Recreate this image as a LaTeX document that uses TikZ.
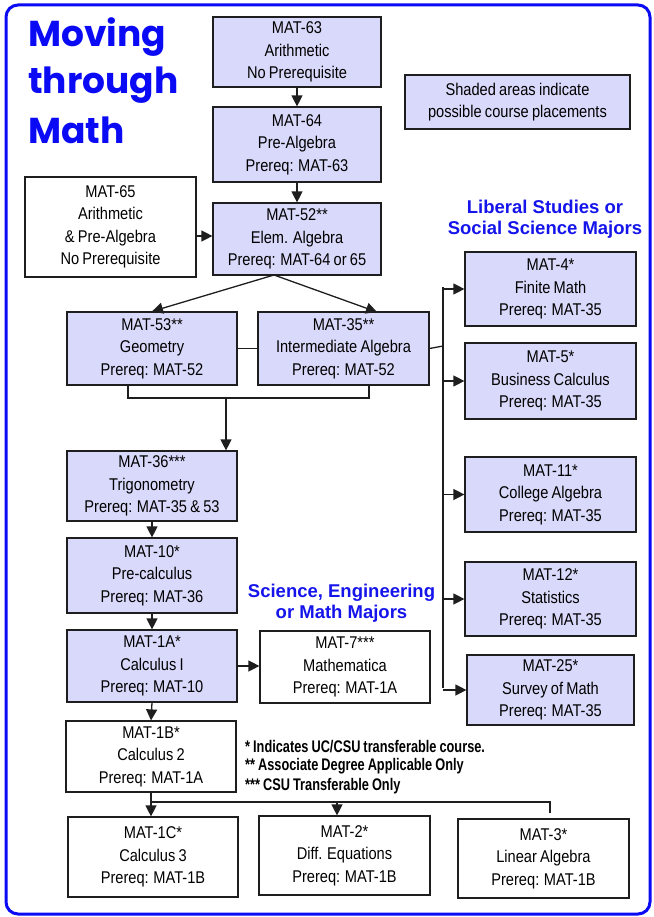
\documentclass[tikz,border=0pt]{standalone}
\usepackage{fontspec}
\setmainfont{Liberation Sans}[FakeStretch=0.86, WordSpace=0.8]
\newfontfamily\titlefont{Poppins}
\newfontfamily\condfont{Liberation Sans}[FakeStretch=0.76, WordSpace=0.85]
\newfontfamily\labelfont{Liberation Sans}
\usetikzlibrary{arrows.meta}
\definecolor{shade}{RGB}{217,217,251}
\definecolor{frameblue}{RGB}{10,10,245}
\definecolor{labelblue}{RGB}{20,20,235}
\definecolor{edgecol}{RGB}{30,30,30}
\tikzset{
  course/.style={draw=edgecol, line width=1.2pt, align=center, inner sep=0pt,
    font=\fontsize{17}{22.5}\selectfont},
  shadedbox/.style={course, fill=shade},
  plainbox/.style={course, fill=white},
  conn/.style={draw=edgecol, line width=1.3pt},
  arr/.style={conn, -{Triangle[length=11pt,width=11pt]}},
  majors/.style={text=labelblue, font=\labelfont\fontsize{18.5}{21.5}\selectfont\bfseries,
    align=center, inner sep=0pt},
  foot/.style={font=\condfont\bfseries\fontsize{16.8}{19}\selectfont, anchor=west, inner sep=0pt},
  ttl/.style={text=frameblue, font=\titlefont\bfseries\fontsize{36}{48}\selectfont,
    anchor=base west, inner sep=0pt},
}
\newcommand\crsbox[7]{\node[#6, minimum width={(#4-#2)*1pt}, minimum height={(#5-#3)*1pt}]
  (#1) at ({(#2+#4)/2},{(#3+#5)/2}) {#7};}
\begin{document}
\begin{tikzpicture}[x=1pt,y=-1pt]
\useasboundingbox (0,0) rectangle (653,917);
\draw[frameblue, line width=3pt, rounded corners=12pt] (6,5) rectangle (650,914);

% title
\node[ttl] (t1) at (28,47) {Moving};
\node[ttl] (t2) at (28,94) {through};
\node[ttl] (t3) at (28,144) {Math};

% boxes
\crsbox{m63}{213}{17}{381}{87}{shadedbox}{MAT-63\\Arithmetic\\No Prerequisite}
\crsbox{m64}{213}{107}{381}{182}{shadedbox}{MAT-64\\Pre-Algebra\\Prereq: MAT-63}
\crsbox{m65}{25}{177}{196}{277}{plainbox}{MAT-65\\Arithmetic\\\& Pre-Algebra\\No Prerequisite}
\crsbox{m52}{213}{203}{381}{275}{shadedbox}{MAT-52**\\Elem. Algebra\\Prereq: MAT-64 or 65}
\crsbox{m53}{67}{312}{237}{385}{shadedbox}{MAT-53**\\Geometry\\Prereq: MAT-52}
\crsbox{m35}{258}{312}{429}{385}{shadedbox}{MAT-35**\\Intermediate Algebra\\Prereq: MAT-52}
\crsbox{m36}{67}{451}{237}{521}{shadedbox}{MAT-36***\\Trigonometry\\Prereq: MAT-35 \& 53}
\crsbox{m10}{67}{538}{237}{613}{shadedbox}{MAT-10*\\Pre-calculus\\Prereq: MAT-36}
\crsbox{m1A}{67}{630}{237}{702}{shadedbox}{MAT-1A*\\Calculus I\\Prereq: MAT-10}
\crsbox{m7}{260}{631}{430}{703}{plainbox}{MAT-7***\\Mathematica\\Prereq: MAT-1A}
\crsbox{m1B}{66}{721}{236}{792}{plainbox}{MAT-1B*\\Calculus 2\\Prereq: MAT-1A}
\crsbox{m1C}{68}{817}{238}{897}{plainbox}{MAT-1C*\\Calculus 3\\Prereq: MAT-1B}
\crsbox{m2}{259}{816}{430}{895}{plainbox}{MAT-2*\\Diff. Equations\\Prereq: MAT-1B}
\crsbox{m3}{458}{819}{629}{898}{plainbox}{MAT-3*\\Linear Algebra\\Prereq: MAT-1B}
\crsbox{m4}{465}{252}{636}{326}{shadedbox}{MAT-4*\\Finite Math\\Prereq: MAT-35}
\crsbox{m5}{465}{343}{636}{419}{shadedbox}{MAT-5*\\Business Calculus\\Prereq: MAT-35}
\crsbox{m11}{465}{457}{636}{532}{shadedbox}{MAT-11*\\College Algebra\\Prereq: MAT-35}
\crsbox{m12}{465}{562}{636}{636}{shadedbox}{MAT-12*\\Statistics\\Prereq: MAT-35}
\crsbox{m25}{467}{655}{634}{725}{shadedbox}{MAT-25*\\Survey of Math\\Prereq: MAT-35}
\crsbox{note}{405}{75}{630}{129}{shadedbox}{Shaded areas indicate\\possible course placements}

% labels
\node[majors] (lib) at (545,219) {Liberal Studies or\\Social Science Majors};
\node[majors] (sci) at (341.5,603) {Science, Engineering\\or Math Majors};
\node[foot] (f1) at (245,747) {* Indicates UC/CSU transferable course.};
\node[foot] (f2) at (245,766) {** Associate Degree Applicable Only};
\node[foot] (f3) at (245,786) {*** CSU Transferable Only};

% connectors
\draw[arr] (m63.south) -- (m64.north);
\draw[arr] (m64.south) -- (m52.north);
\coordinate (a65) at (0,236);
\draw[arr] (m65.east |- a65) -- (m52.west |- a65);
\coordinate (fork) at (274,275);
\coordinate (t35) at (377,312);
\draw[arr] (fork) -- (m53.north);
\draw[arr] (fork) -- (t35);
\draw[conn] (m53.east) -- (m35.west);
\coordinate (bl) at (128,398);
\coordinate (br) at (369,398);
\coordinate (bm) at (226,398);
\draw[conn] (bl |- m53.south) -- (bl) -- (br) -- (br |- m35.south);
\draw[arr] (bm) -- (bm |- m36.north);
\draw[arr] (m36.south) -- (m10.north);
\draw[arr] (m10.south) -- (m1A.north);
\draw[arr] (m1A.south) -- (m1B.north);
\draw[arr] (m1A.east) -- (m7.west |- m1A.east);

% right bus
\coordinate (bus) at (443,346);
\coordinate (bustop) at (443,287);
\coordinate (busbot) at (443,688);
\draw[conn] (m35.east) -- (bus);
\draw[conn] (bustop) -- (busbot);
\draw[arr] (bus |- m4.west) -- (m4.west);
\draw[arr] (bus |- m5.west) -- (m5.west);
\draw[arr] (bus |- m11.west) -- (m11.west);
\draw[arr] (bus |- m12.west) -- (m12.west);
\draw[arr] (bus |- m25.west) -- (m25.west);

% bottom bus
\coordinate (bb1) at (151,802);
\coordinate (bb2) at (337,802);
\coordinate (bb3) at (550,802);
\coordinate (bb4) at (550,813);
\draw[conn] (m1B.south -| bb1) -- (bb1) -- (bb3) -- (bb4);
\draw[arr] (bb1) -- (bb1 |- m1C.north);
\draw[arr] (bb2) -- (bb2 |- m2.north);
\end{tikzpicture}
\end{document}
